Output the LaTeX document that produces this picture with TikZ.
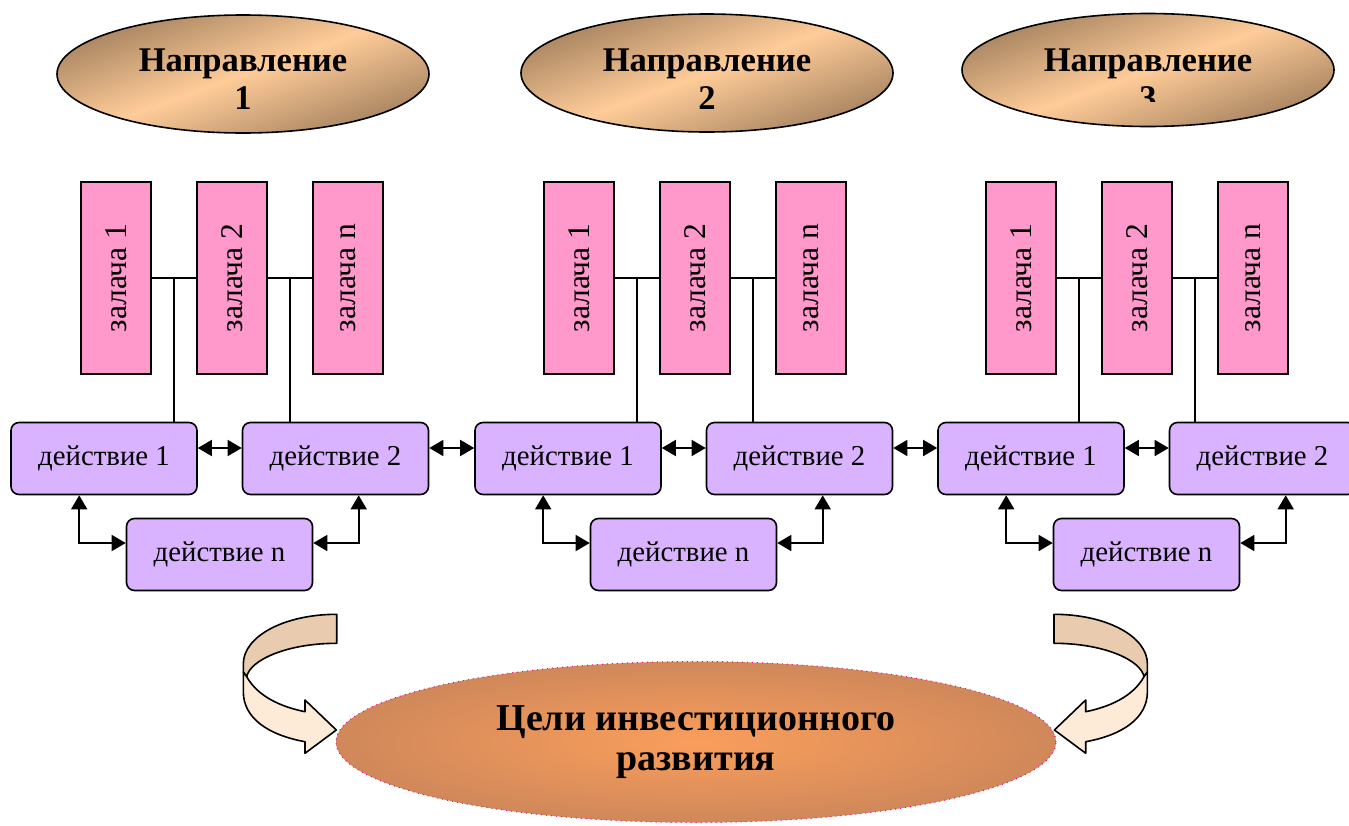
\documentclass[tikz,border=0pt]{standalone}
\usepackage{fontspec}
\setmainfont{Liberation Serif}
\usepackage{graphicx}
\usetikzlibrary{calc, shapes, arrows.meta}
\definecolor{taskpink}{RGB}{255,153,204}
\definecolor{actlilac}{RGB}{217,179,255}
\definecolor{dirlight}{RGB}{255,204,153}
\definecolor{dirdark}{RGB}{165,130,95}
\definecolor{goalin}{RGB}{250,158,92}
\definecolor{goalout}{RGB}{208,136,90}
\definecolor{curldark}{RGB}{233,204,175}
\definecolor{curllight}{RGB}{253,234,215}
\tikzset{
	taskbox/.style={draw, line width=0.8pt, fill=taskpink, minimum width=35pt, minimum height=96pt, inner sep=0pt, font=\fontsize{15.8}{18}\selectfont},
	actbox/.style={draw, line width=0.8pt, fill=actlilac, rounded corners=4pt, minimum width=93pt, minimum height=36pt, inner sep=0pt, font=\fontsize{14.4}{17}\selectfont},
	direll/.style={ellipse, draw, line width=0.8pt, minimum width=186pt, minimum height=59pt, inner sep=0pt, top color=dirdark, bottom color=dirdark, middle color=dirlight, shading angle=20},
	dirtext/.style={align=center, inner sep=0pt, font=\bfseries\fontsize{17.3}{19}\selectfont},
	goalell/.style={ellipse, draw=magenta, dotted, line width=0.5pt, inner color=goalin, outer color=goalout, minimum width=360pt, minimum height=80.5pt, inner sep=0pt, align=center, font=\bfseries\fontsize{19}{20}\selectfont},
	dblarr/.style={{Triangle[length=7pt,width=8pt]}-{Triangle[length=7pt,width=8pt]}, line width=0.8pt},
	curl/.style={draw, line width=0.8pt, line join=round}
}
\begin{document}
\begin{tikzpicture}[x=0.5pt, y=-0.5pt]
			\newcommand{\curlarrow}{
				\draw[curl, fill=curldark] (336.7,614.3) .. controls (285,614.3) and (243.3,636) .. (243.3,664) -- (243.3,672) -- (246.7,676.7) .. controls (250,660) and (287,643.3) .. (336.7,643.3) -- cycle;
				\draw[curl, fill=curllight] (246.7,676.7) .. controls (258,697) and (282,707) .. (305,711.7) -- (305,700) -- (336.3,730) -- (305,753.3) -- (305,741.7) .. controls (268,735) and (243.3,718) .. (243.3,691.7) -- (243.3,672) -- cycle;
			}
			\useasboundingbox (0,0) rectangle (1349,825);
			%Directions at the top
			\node[direll] (dir1) at (243,74) {};
			\node[dirtext] (dirtext1) at (243,79) {Направление\\1};
			\node[direll] (dir2) at (707,73) {};
			\node[dirtext] (dirtext2) at (707,79) {Направление\\2};
			\node[direll, minimum height=56.5pt] (dir3) at (1148,70) {};
			\begin{scope}
				\clip (962,0) rectangle (1335,101);
				\node[dirtext] (dirtext3) at (1148,79) {Направление\\3};
			\end{scope}
			%Tasks and actions of each direction
			\foreach \g/\tx/\ax in {1/0/0, 2/463/464, 3/905/927} {
				\node[taskbox] (t\g1) at (116+\tx,278) {\rotatebox{90}{залача 1}};
				\node[taskbox] (t\g2) at (232+\tx,278) {\rotatebox{90}{залача 2}};
				\node[taskbox] (t\g3) at (348+\tx,278) {\rotatebox{90}{залача n}};
				\node[actbox] (a\g1) at (104+\ax,458.5) {действие 1};
				\node[actbox] (a\g2) at (335.5+\ax,458.5) {действие 2};
				\node[actbox] (a\g3) at (219.5+\ax,554.5) {действие n};
				%task links
				\draw[line width=0.8pt] (t\g1.east) -- coordinate (m\g1) (t\g2.west);
				\draw[line width=0.8pt] (t\g2.east) -- coordinate (m\g2) (t\g3.west);
				\draw[line width=0.8pt] (m\g1) -- (m\g1 |- a\g1.north);
				\draw[line width=0.8pt] (m\g2) -- (m\g2 |- a\g2.north);
				%action links
				\draw[dblarr] ([yshift=5.25pt]a\g1.east) -- ([yshift=5.25pt]a\g2.west);
				\draw[dblarr] ([xshift=34.5pt]a\g1.south west) |- ([yshift=5.75pt]a\g3.west);
				\draw[dblarr] ([xshift=58.5pt]a\g2.south west) |- ([yshift=5.75pt]a\g3.east);
			}
			%Links between directions
			\draw[dblarr] ([yshift=5.25pt]a12.east) -- ([yshift=5.25pt]a21.west);
			\draw[dblarr] ([yshift=5.25pt]a22.east) -- ([yshift=5.25pt]a31.west);
			%Goal
			\node[goalell] (goal) at (696,742) {Цели инвестиционного\\развития};
			%Curved arrows
			\curlarrow
			\begin{scope}[shift={(1390.7,0)}, xscale=-1]
				\curlarrow
			\end{scope}
\end{tikzpicture}
\end{document}
